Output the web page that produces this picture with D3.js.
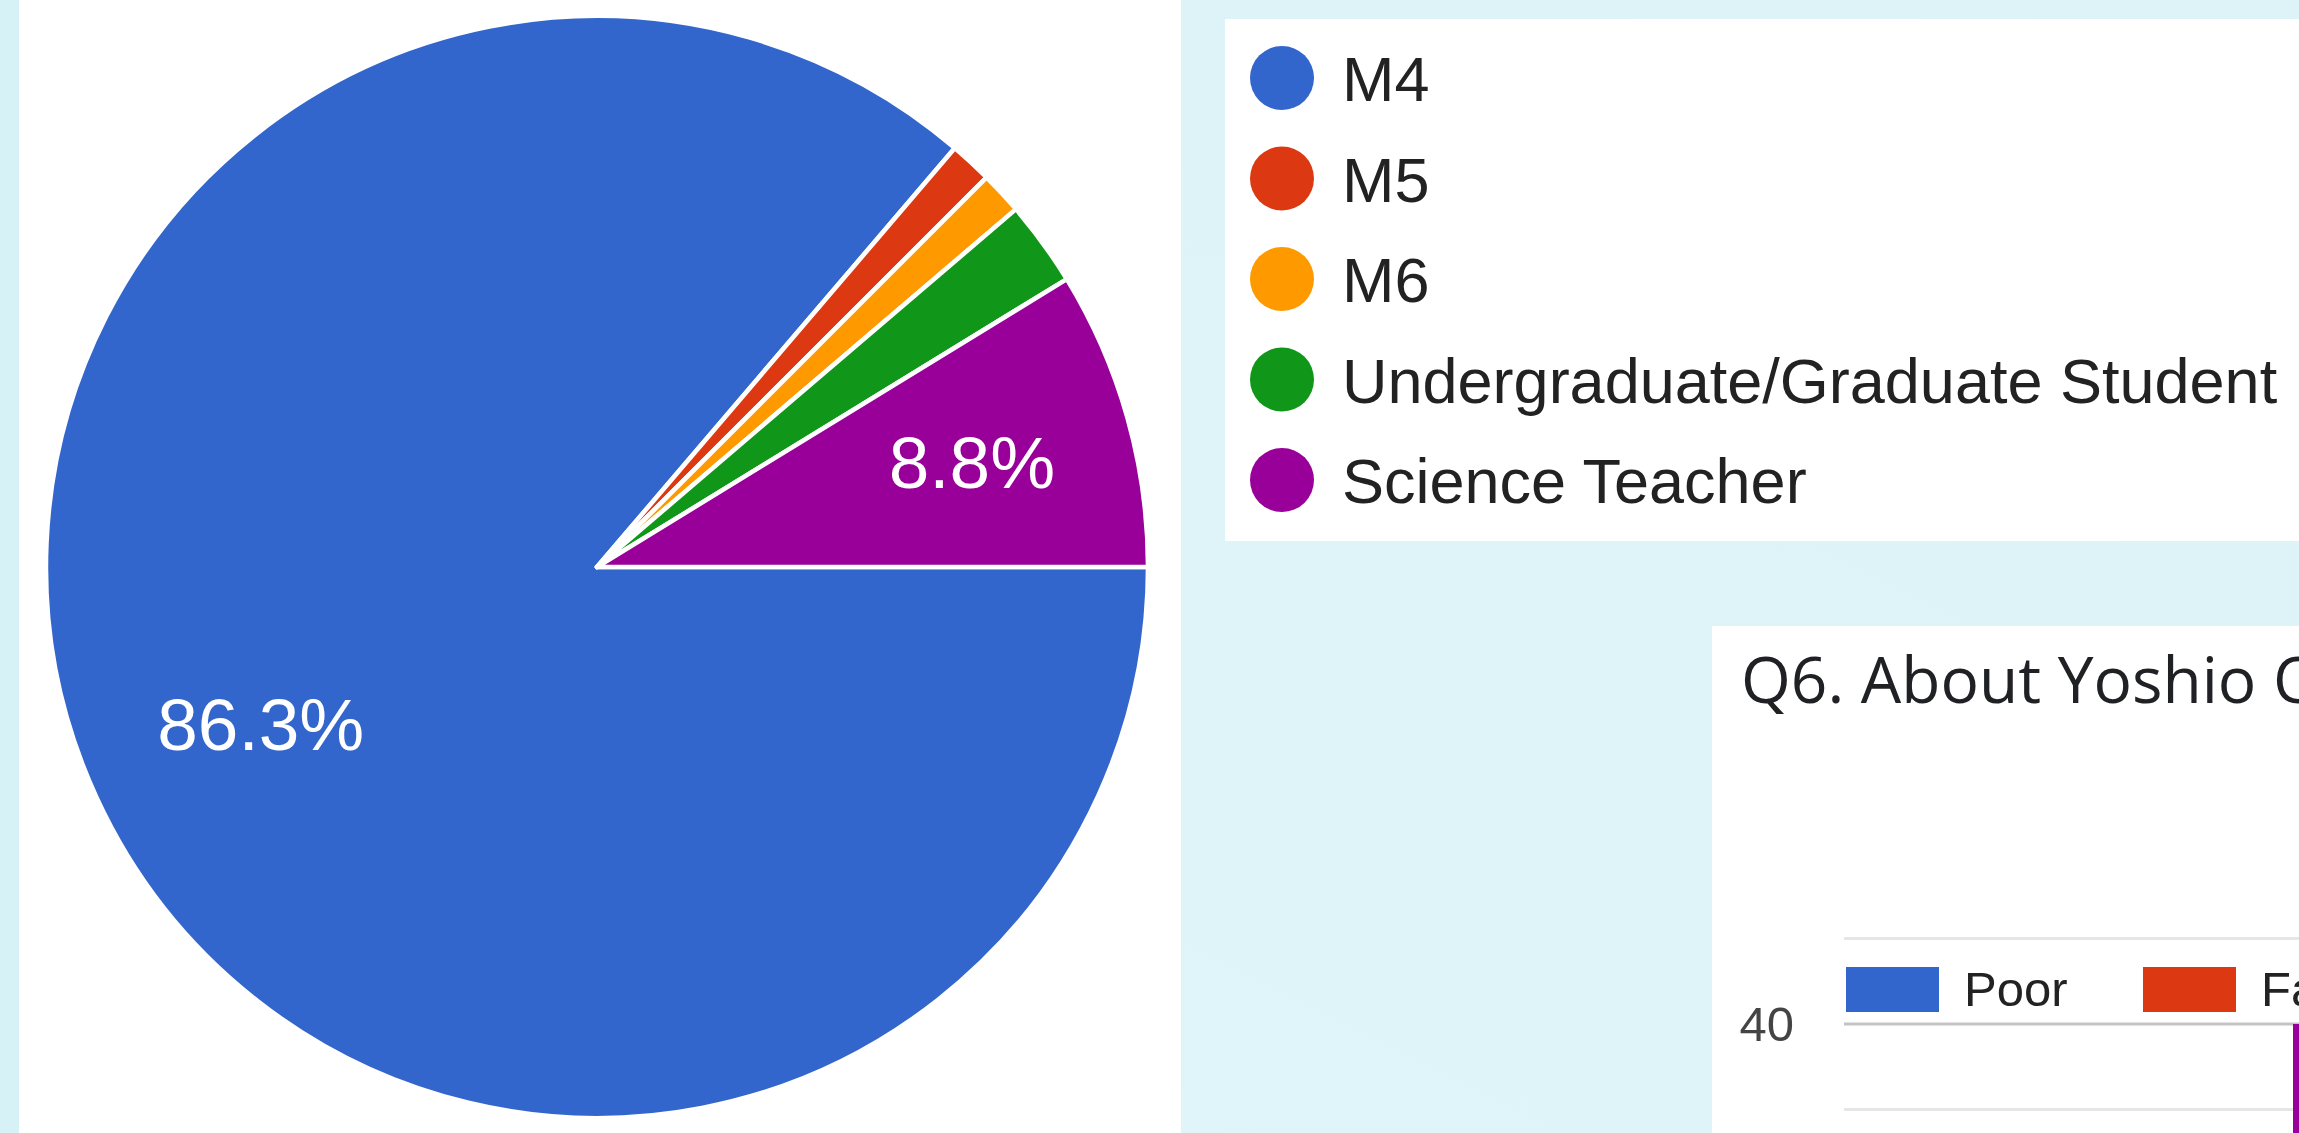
<!DOCTYPE html>
<html>
<head>
<meta charset="utf-8">
<script src="https://cdn.jsdelivr.net/npm/d3@7"></script>
<style>
  html, body { margin: 0; padding: 0; overflow: hidden; background: #dff4f9; }
  svg { display: block; }
</style>
</head>
<body>
<script>
// ---------- data ----------
const pieCategories = ["M4", "M5", "M6", "Undergraduate/Graduate Student", "Science Teacher"];
const pieCounts = [69, 1, 1, 2, 7];
const pieColors = ["#3366cc", "#dc3912", "#ff9900", "#109618", "#990099"];

const q6Title = "Q6. About Yoshio O";
const q6Legend = ["Poor", "Fair"];
const q6LegendColors = ["#3366cc", "#dc3912"];
const q6Categories = ["row1"];
const q6Values = [40];
const q6BarColor = "#990099";
const q6MajorTicks = [40];
const q6MinorTicks = [35, 45];

// ---------- canvas ----------
const W = 2299, H = 1133;
const svg = d3.select("body").append("svg").attr("width", W).attr("height", H);

const defs = svg.append("defs");
const grad = defs.append("linearGradient").attr("id", "bg")
  .attr("x1", "0").attr("y1", "1").attr("x2", "1").attr("y2", "0");
grad.append("stop").attr("offset", "0").attr("stop-color", "#e2f5fa");
grad.append("stop").attr("offset", "0.5").attr("stop-color", "#def4f9");
grad.append("stop").attr("offset", "1").attr("stop-color", "#ddf3f8");

svg.append("rect").attr("x", 0).attr("y", 0).attr("width", W).attr("height", H).attr("fill", "url(#bg)");
svg.append("rect").attr("x", 0).attr("y", 0).attr("width", 19).attr("height", H).attr("fill", "#d7f2f7");

// ---------- pie panel ----------
svg.append("rect").attr("x", 19).attr("y", 0).attr("width", 1162).attr("height", H).attr("fill", "#ffffff");

const cx = 597, cy = 567, R = 551;
const total = d3.sum(pieCounts);
const pie = d3.pie().sort(null).value(d => d)
  .startAngle(Math.PI / 2).endAngle(Math.PI / 2 + 2 * Math.PI);
const arcs = pie(pieCounts);
const arc = d3.arc().innerRadius(0).outerRadius(R);
const labelArc = d3.arc().innerRadius(R * 0.69).outerRadius(R * 0.69);

const pg = svg.append("g").attr("transform", `translate(${cx},${cy})`);
pg.selectAll("path.slice").data(arcs).join("path")
  .attr("class", "slice")
  .attr("d", arc)
  .attr("fill", (d, i) => pieColors[i])
  .attr("stroke", "#ffffff")
  .attr("stroke-width", 4.5)
  .attr("stroke-linejoin", "round");

pg.selectAll("text.plabel").data(arcs.filter(d => d.value / total > 0.05)).join("text")
  .attr("class", "plabel")
  .attr("transform", d => {
    const c = labelArc.centroid(d);
    return `translate(${c[0] + 9},${c[1] - 2})`;
  })
  .attr("text-anchor", "middle")
  .attr("dy", "0.36em")
  .attr("fill", "#ffffff")
  .style("font-family", "'Liberation Sans', Arial, sans-serif")
  .style("font-size", "73px")
  .text(d => (Math.round(d.value * 1000 / total) / 10).toFixed(1) + "%");

// ---------- pie legend ----------
svg.append("rect").attr("x", 1225).attr("y", 19).attr("width", W - 1225).attr("height", 522).attr("fill", "#ffffff");
const ly = d3.scalePoint().domain(pieCategories).range([78, 480]);
const lg = svg.append("g");
const li = lg.selectAll("g").data(pieCategories).join("g")
  .attr("transform", d => `translate(1282,${ly(d)})`);
li.append("circle").attr("r", 32).attr("fill", (d, i) => pieColors[i]);
li.append("text")
  .attr("x", 60).attr("dy", 23)
  .attr("fill", "#222222")
  .style("font-family", "'Liberation Sans', Arial, sans-serif")
  .style("font-size", "63px")
  .text(d => d);

// ---------- Q6 column chart panel ----------
svg.append("rect").attr("x", 1712).attr("y", 626).attr("width", W - 1712).attr("height", H - 626).attr("fill", "#ffffff");
svg.append("text")
  .attr("x", 1741).attr("y", 703)
  .attr("fill", "#202124")
  .style("font-family", "'Open Sans', sans-serif")
  .style("font-size", "64px")
  .text(q6Title);

const plotLeft = 1844, plotRight = W + 400;
const y = d3.scaleLinear().domain([0, 40]).range([1708, 1024]);
const x = d3.scaleBand().domain(q6Categories).range([2293, 2293 + 400]).padding(0);

const cg = svg.append("g");
cg.selectAll("line.minor").data(q6MinorTicks).join("line")
  .attr("class", "minor")
  .attr("x1", plotLeft).attr("x2", plotRight)
  .attr("y1", d => y(d)).attr("y2", d => y(d))
  .attr("stroke", "#e6e6e6").attr("stroke-width", 3);
cg.selectAll("line.major").data(q6MajorTicks).join("line")
  .attr("class", "major")
  .attr("x1", plotLeft).attr("x2", plotRight)
  .attr("y1", d => y(d)).attr("y2", d => y(d))
  .attr("stroke", "#c4c4c4").attr("stroke-width", 3);
cg.selectAll("text.ytick").data(q6MajorTicks).join("text")
  .attr("class", "ytick")
  .attr("x", 1794).attr("y", d => y(d)).attr("dy", 17)
  .attr("text-anchor", "end")
  .attr("fill", "#444444")
  .style("font-family", "'Liberation Sans', Arial, sans-serif")
  .style("font-size", "49px")
  .text(d => d);

cg.selectAll("rect.bar").data(q6Values).join("rect")
  .attr("class", "bar")
  .attr("x", (d, i) => x(q6Categories[i]))
  .attr("width", x.bandwidth())
  .attr("y", d => y(d))
  .attr("height", d => y(0) - y(d))
  .attr("fill", q6BarColor);

const legX = d3.scalePoint().domain(q6Legend).range([1846, 2143]);
const ql = cg.selectAll("g.qleg").data(q6Legend).join("g")
  .attr("class", "qleg")
  .attr("transform", d => `translate(${legX(d)},967)`);
ql.append("rect").attr("width", 93).attr("height", 45)
  .attr("fill", (d, i) => q6LegendColors[i]);
ql.append("text")
  .attr("x", 118).attr("y", 39)
  .attr("fill", "#222222")
  .style("font-family", "'Liberation Sans', Arial, sans-serif")
  .style("font-size", "49px")
  .text(d => d);
</script>
</body>
</html>
